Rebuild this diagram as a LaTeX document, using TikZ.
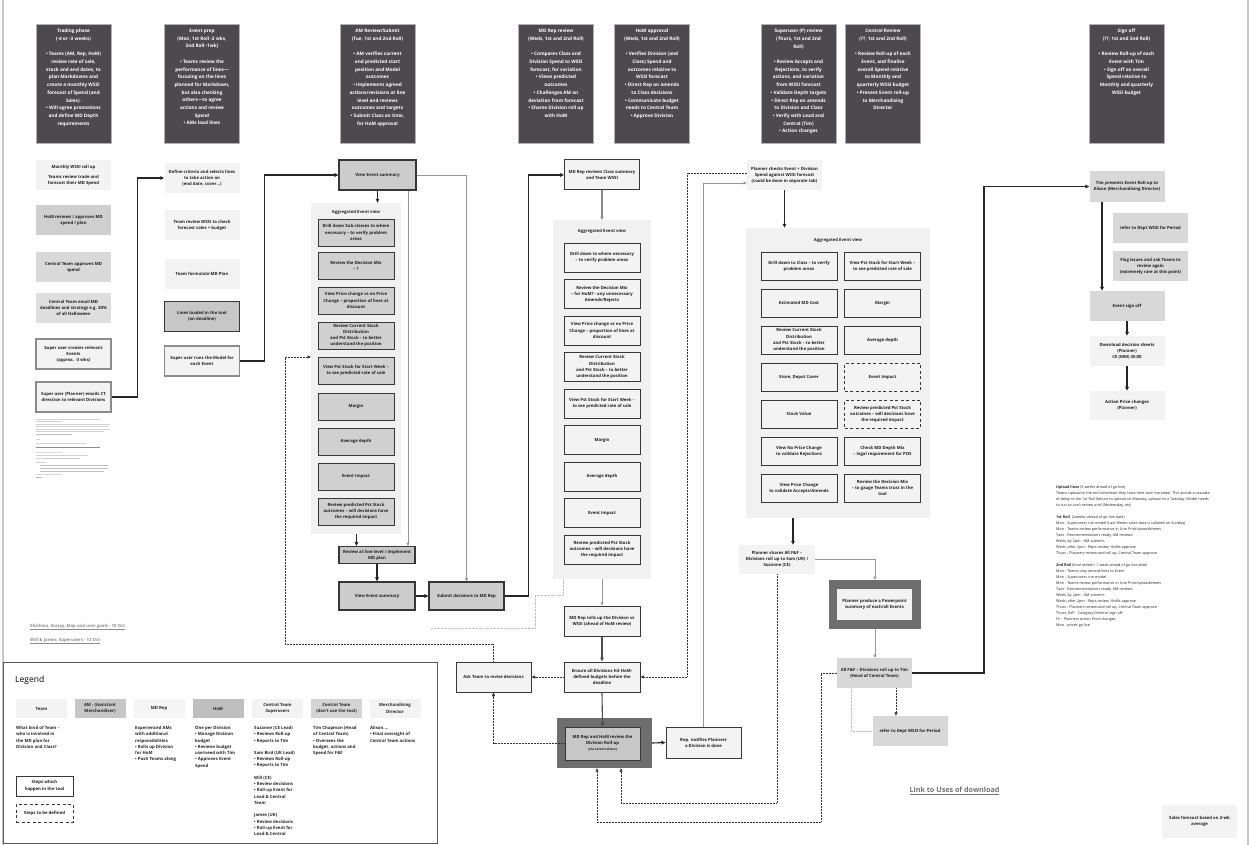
\documentclass[tikz,border=0pt]{standalone}
\usepackage{fontspec}
\setmainfont{Open Sans}
\usetikzlibrary{arrows.meta}
\definecolor{hdr}{RGB}{77,74,79}
\definecolor{lt}{RGB}{243,243,243}
\definecolor{gb}{RGB}{208,208,208}
\definecolor{bd}{RGB}{55,55,55}
\definecolor{grpc}{RGB}{241,241,241}
\definecolor{frm}{RGB}{110,110,110}
\definecolor{mg}{RGB}{216,216,216}
\definecolor{lg}{RGB}{150,150,150}
\definecolor{sg}{RGB}{140,140,140}
\newcommand\hdf{\fontsize{4.7}{7.7}\selectfont\bfseries}
\newcommand\bxf{\fontsize{4.25}{6.1}\selectfont\bfseries}
\newcommand\lgf{\fontsize{4.3}{6.3}\selectfont\bfseries}
\newcommand\ntf{\fontsize{3.75}{6}\selectfont}
\newcommand\lnf{\fontsize{4.3}{6}\selectfont\bfseries}
\begin{document}
\begin{tikzpicture}[x=1pt,y=-1pt,
 hdrbox/.style={fill=hdr, draw=black!30, line width=0.4pt, minimum width=75pt, minimum height=119pt, inner sep=0pt},
 hdrtext/.style={text=white, font=\hdf, align=center, inner sep=0pt, anchor=north},
 base/.style={align=center, inner sep=1pt, font=\bxf, text=black!88},
 lbox/.style={base, fill=lt, minimum width=75pt, minimum height=30pt},
 gbox/.style={base, fill=gb, draw=bd, line width=1pt, minimum width=76pt, minimum height=27pt},
 wbox/.style={base, fill=lt, draw=bd, line width=1pt, minimum width=76pt, minimum height=29pt},
 sbox/.style={base, fill=lt, draw=sg, line width=1.2pt, minimum width=75pt, minimum height=30pt},
 dbox/.style={wbox, dash pattern=on 3pt off 2.5pt},
 mgbox/.style={base, fill=mg, minimum width=75pt, minimum height=30pt},
 grp/.style={fill=grpc, inner sep=0pt},
 frmbox/.style={fill=frm, inner sep=0pt},
 gtitle/.style={font=\bxf, text=black!85, inner sep=0pt},
 arr/.style={draw=black!85, line width=1.1pt, -{Triangle[length=4pt,width=3.6pt]}},
 garr/.style={draw=lg, line width=0.8pt, -{Triangle[length=3.2pt,width=3pt]}},
 darr/.style={draw=black!80, line width=0.6pt, dash pattern=on 0.6pt off 0.9pt, -{Triangle[length=3.5pt,width=3pt]}},
 fdot/.style={draw=black!25, line width=0.5pt, dash pattern=on 0.5pt off 0.9pt},
 lgh/.style={font=\lgf, align=center, minimum width=51pt, minimum height=19pt, inner sep=0.5pt, text=black!85},
 lgd/.style={font=\lgf, align=left, anchor=north west, inner sep=0pt, text=black!85},
]
\useasboundingbox (0,0) rectangle (1252,845);
\fill[white] (0,0) rectangle (1252,845);
\draw[black!22, line width=1.5pt] (3,0) -- (3,845);
\draw[black!22, line width=1.5pt] (1248,0) -- (1248,845);

% ---------------- headers
\node[hdrbox] (H1) at (73.5,83.5) {};
\node[hdrtext] (H1t) at (73.5,29) {Trading phase\\(-4 or -3 weeks)\\[7.7pt]• Teams (AM, Rep, HoM)\\review rate of sale,\\stock and end dates, to\\plan Markdowns and\\create a monthly WSSI\\forecast of Spend (and\\Sales).\\• Will agree promotions\\and define MD Depth\\requirements};
\node[hdrbox] (H2) at (202,83.5) {};
\node[hdrtext] (H2t) at (202,29) {Event prep\\(Mon, 1st Roll -2 wks,\\2nd Roll -1wk)\\[7.7pt]• Teams review the\\performance of lines—\\focusing on the lines\\planned for Markdown,\\but also checking\\others—to agree\\actions and review\\Spend\\• AMs load lines};
\node[hdrbox] (H3) at (377.5,83.5) {};
\node[hdrtext] (H3t) at (377.5,29) {AM Review/Submit\\(Tue, 1st and 2nd Roll)\\[7.7pt]• AM verifies current\\and predicted start\\position and Model\\outcomes\\• Implements agreed\\actions/revisions at line\\level and reviews\\outcomes and targets\\• Submit Class on time,\\for HoM approval};
\node[hdrbox] (H4) at (556,83.5) {};
\node[hdrtext] (H4t) at (556,29) {MD Rep review\\(Weds, 1st and 2nd Roll)\\[7.7pt]• Compares Class and\\Division Spend to WSSI\\forecast, for variation\\• Views predicted\\outcomes\\• Challenges AM on\\deviation from forecast\\• Shares Division roll up\\with HoM};
\node[hdrbox] (H5) at (652,83.5) {};
\node[hdrtext] (H5t) at (652,29) {HoM approval\\(Weds, 1st and 2nd Roll)\\[7.7pt]• Verifies Division (and\\Class) Spend and\\outcomes relative to\\WSSI forecast\\• Direct Rep on amends\\to Class decisions\\• Communicate budget\\needs to Central Team\\• Approve Division};
\node[hdrbox] (H6) at (798.5,83.5) {};
\node[hdrtext] (H6t) at (798.5,29) {Superuser (P) review\\(Thurs, 1st and 2nd\\Roll)\\[7.7pt]• Review Accepts and\\Rejections, to verify\\actions, and variation\\from WSSI forecast\\• Validate Depth targets\\• Direct Rep on amends\\to Division and Class\\• Verify with Lead and\\Central (Tim)\\• Action changes};
\node[hdrbox] (H7) at (883,83.5) {};
\node[hdrtext] (H7t) at (883,29) {Central Review\\(??, 1st and 2nd Roll)\\[7.7pt]• Review Roll-up of each\\Event, and finalise\\overall Spend relative\\to Monthly and\\quarterly WSSI budget\\• Present Event roll-up\\to Merchandising\\Director};
\node[hdrbox] (H8) at (1126.5,83.5) {};
\node[hdrtext] (H8t) at (1126.5,29) {Sign off\\(??, 1st and 2nd Roll)\\[7.7pt]• Review Roll-up of each\\Event with Tim\\• Sign off on overall\\Spend relative to\\Monthly and quarterly\\WSSI budget};

% ---------------- left column
\node[lbox] (L1) at (73.5,175) {Monthly WSSI roll up\\[4pt]Teams review trade and\\forecast their MD Spend};
\node[lbox, fill=black!19] (L2) at (73.5,220) {HoM reviews / approves MD\\spend / plan};
\node[lbox, fill=black!15] (L3) at (73.5,267) {Central Team approves MD\\spend};
\node[lbox, fill=black!13] (L4) at (73.5,308) {Central Team email MD\\deadlines and strategy e.g. 30\%\\of all Halloween};
\node[sbox] (L5) at (73.5,354) {Super user creates relevant\\Events\\(approx. -3 wks)};
\node[sbox] (L6) at (73.5,397) {Super user (Planner) emails CT\\direction to relevant Divisions};
\foreach \yy/\xa/\xb/\cc in {419/36/100/18, 421.5/36/62/18, 424/36/110/18, 426.5/36/108/18, 429/36/110/18, 431.5/36/104/18, 434/36/72/25, 439/36/40/18, 443/36/86/18, 447.5/36/100/45, 452/36/62/15, 455/36/88/18, 458/36/80/18, 462/36/46/18, 465/40/108/25, 468/40/108/25, 471/40/104/25, 474.5/36/62/15, 477.5/36/42/30}
  \draw[black!\cc, line width=0.7pt] (\xa,\yy) -- (\xb,\yy);
\node[anchor=west, font=\lnf, text=black!45, inner sep=0pt] (NA) at (30,627) {\underline{Shishma, Surjay, Map and user goals - 10 Oct}};
\node[anchor=west, font=\lnf, text=black!45, inner sep=0pt] (NB) at (30,641) {\underline{Will \& James, Superusers - 13 Oct}};

% ---------------- event prep column
\node[lbox] (E1) at (202,178) {Define criteria and selects lines\\to take action on\\(end date, cover...)};
\node[lbox] (E2) at (202,225) {Team review WSSI to check\\forecast sales + budget};
\node[lbox] (E3) at (202,274) {Team formulate MD Plan};
\node[base, fill=black!22, draw=bd, line width=1pt, minimum width=75pt, minimum height=30pt] (E4) at (202,316) {Lines loaded in the tool\\(on deadline)};
\node[sbox] (E5) at (202,361) {Super user runs the Model for\\each Event};

% ---------------- AM column
\node[base, fill=black!20, draw=bd, line width=1.2pt, minimum width=77pt, minimum height=30pt] (V1) at (377.5,175) {View Event summary};
\node[grp, minimum width=90pt, minimum height=331pt] (G1) at (356,368.5) {};
\node[gtitle] (G1t) at (356,212) {Aggregated Event view};
\node[gbox] (a1) at (356,232.5) {Drill down Sub-classes to where\\necessary – to verify problem\\areas};
\node[gbox] (a2) at (356,265.5) {Review the Decision Mix\\– ?};
\node[gbox] (a3) at (356,300.5) {View Price change vs no Price\\Change – proportion of lines at\\discount};
\node[gbox] (a4) at (356,335.5) {Review Current Stock\\Distribution\\and Pst Stock – to better\\understand the position};
\node[gbox] (a5) at (356,370.5) {View Pst Stock for Start Week –\\to see predicted rate of sale};
\node[gbox] (a6) at (356,406.5) {Margin};
\node[gbox] (a7) at (356,441.5) {Average depth};
\node[gbox] (a8) at (356,476.5) {Event Impact};
\node[gbox] (a9) at (356,511.5) {Review predicted Pst Stock\\outcomes – will decisions have\\the required impact};
\node[base, fill=black!22, draw=bd, line width=1.2pt, minimum width=76pt, minimum height=17pt] (R1) at (377,555) {Review at line level / implement\\MD plan};
\node[base, fill=black!20, draw=bd, line width=1.2pt, minimum width=76pt, minimum height=28pt] (V2) at (377,596) {View Event summary};
\node[base, fill=black!20, draw=bd, line width=1.2pt, minimum width=75pt, minimum height=28pt] (S1) at (466.5,596) {Submit decisions to MD Rep};
\coordinate (g1in) at (311,357);

% ---------------- MD Rep column
\node[wbox, minimum width=75pt, minimum height=30pt] (M1) at (602,175) {MD Rep reviews Class summary\\and Team WSSI};
\node[grp, minimum width=98pt, minimum height=359pt] (G2) at (602,399.5) {};
\node[gtitle] (G2t) at (602,231) {Aggregated Event view};
\node[wbox] (b1) at (602,257.5) {Drill down to where necessary\\– to verify problem areas};
\node[wbox] (b2) at (602,294) {Review the Decision Mix\\– for HoM? - any unnecessary\\Amends/Rejects};
\node[wbox] (b3) at (602,330.5) {View Price change vs no Price\\Change – proportion of lines at\\discount};
\node[wbox] (b4) at (602,367) {Review Current Stock\\Distribution\\and Pst Stock – to better\\understand the position};
\node[wbox] (b5) at (602,403.5) {View Pst Stock for Start Week –\\to see predicted rate of sale};
\node[wbox] (b6) at (602,440) {Margin};
\node[wbox] (b7) at (602,476.5) {Average depth};
\node[wbox] (b8) at (602,513) {Event Impact};
\node[wbox] (b9) at (602,549.5) {Review predicted Pst Stock\\outcomes – will decisions have\\the required impact};
\node[wbox, minimum height=30pt] (M2) at (602,621) {MD Rep rolls up the Division vs\\WSSI (ahead of HoM review)};
\node[wbox, minimum height=30pt] (M3) at (602,677) {Ensure all Divisions hit HoM-\\defined budgets before the\\deadline};
\node[frmbox, minimum width=95pt, minimum height=50pt] (F1) at (604.5,743) {};
\node[base, fill=black!22, draw=bd, line width=1pt, minimum width=75pt, minimum height=33pt] (M4) at (602.5,743.5) {MD Rep and HoM review the\\Division Roll-up\\{\fontsize{3.3}{4.5}\selectfont (via screen share)}};
\node[wbox, minimum width=75pt, minimum height=30pt] (A1) at (493.5,677) {Ask Team to revise decisions};
\node[wbox, minimum width=75pt, minimum height=31pt] (N1) at (703.5,742.5) {Rep. notifies Planners\\a Division is done};

% ---------------- Superuser column
\node[lbox] (P1) at (784.5,175) {Planner checks Event + Division\\Spend against WSSI forecast\\(could be done in separate tab)};
\node[grp, minimum width=184pt, minimum height=290pt] (G3) at (838,373) {};
\node[gtitle] (G3t) at (838,240) {Aggregated Event view};
\node[wbox, minimum height=28pt] (c1) at (799,266) {Drill down to Class – to verify\\problem areas};
\node[wbox, minimum height=28pt] (d1) at (882.5,266) {View Pst Stock for Start Week –\\to see predicted rate of sale};
\node[wbox, minimum height=28pt] (c2) at (799,303) {Estimated MD Cost};
\node[wbox, minimum height=28pt] (d2) at (882.5,303) {Margin};
\node[wbox, minimum height=28pt] (c3) at (799,340) {Review Current Stock\\Distribution\\and Pst Stock – to better\\understand the position};
\node[wbox, minimum height=28pt] (d3) at (882.5,340) {Average depth};
\node[wbox, minimum height=28pt] (c4) at (799,377) {Store, Depot Cover};
\node[dbox, minimum height=28pt] (d4) at (882.5,377) {Event Impact};
\node[wbox, minimum height=28pt] (c5) at (799,414) {Stock Value};
\node[dbox, minimum height=28pt] (d5) at (882.5,414) {Review predicted Pst Stock\\outcomes – will decisions have\\the required impact};
\node[wbox, minimum height=28pt] (c6) at (799,451) {View No Price Change\\to validate Rejections};
\node[wbox, minimum height=28pt] (d6) at (882.5,451) {Check MD Depth Mix\\– legal requirement for POS};
\node[wbox, minimum height=28pt] (c7) at (799,488) {View Price Change\\to validate Accepts/Amends};
\node[wbox, minimum height=28pt] (d7) at (882.5,488) {Review the Decision Mix\\– to gauge Teams trust in the\\tool};
\node[lbox, minimum width=76pt, minimum height=29pt] (P2) at (777,559.5) {Planner shares All F\&F –\\Divisions roll up to Sam (UK) /\\Suzanne (CE)};

% ---------------- Central review
\node[frmbox, minimum width=92pt, minimum height=49pt] (F2) at (875,604.5) {};
\node[lbox, minimum height=31pt] (P3) at (874.5,604.5) {Planner produce a Powerpoint\\summary of each/all Events};
\node[mgbox] (P4) at (874.5,673) {All F\&F – Divisions roll up to Tim\\(Head of Central Team)};
\node[mgbox] (P5) at (910,731) {refer to Dept WSSI for Period};

% ---------------- Sign off column
\node[mgbox] (T1) at (1127,186.5) {Tim presents Event Roll-up to\\Alison (Merchandising Director)};
\node[mgbox] (T2) at (1150.5,228) {refer to Dept WSSI for Period};
\node[mgbox] (T3) at (1150.5,266) {Flag issues and ask Teams to\\review again\\(extremely rare at this point)};
\node[mgbox] (T4) at (1127,306) {Event sign off};
\node[lbox] (T5) at (1127,351) {Download decision sheets\\(Planner)\\CE (MM) 45:00};
\node[lbox, minimum height=29pt] (T6) at (1127,405.5) {Action Price changes\\(Planner)};

% ---------------- connectors
\draw[arr] (L6.east) -- ++(26,0) |- (E1.west);
\draw[arr] (E5.east) -- ++(24,0) |- (V1.west);
\draw[arr] (V1.south) -- (V1.south |- G1.north);
\draw[arr] ([xshift=-21pt]V1.south |- G1.south) -- ([xshift=-21pt]V1.south |- R1.north);
\draw[garr] ([xshift=30.5pt]V1.south) -- ([xshift=30.5pt]V1.south |- R1.north);
\draw[garr] (V1.east) -| (S1.north);
\draw[arr] (R1.south) -- (V2.north);
\draw[arr] (V2.east) -- (S1.west);
\draw[arr] (S1.east) -- ++(24,0) |- (M1.west);
\draw[garr, line width=1.4pt, draw=black!45] (M1.south) -- (M1.south |- G2.north);
\draw[garr, draw=black!40] (G2.south) -- (M2.north);
\draw[arr, draw=black!70] (M2.south) -- (M3.north);
\draw[arr, draw=black!70] (M3.south) -- (M4.north);
\draw[arr] (F1.east) -- (N1.west);
\draw[darr] (M3.west) -- (A1.east);
\draw[darr] (M4.west) -| (A1.south);
\draw[darr] (A1.north) |- (285,644) |- (g1in);
\draw[fdot] ([xshift=-39pt]G2.south) -- ++(0,16) -- ++(-28,0) -- ++(0,33) -- ++(-105,0);
\draw[arr] (P1.south) -- (P1.south |- G3.north);
\draw[arr] ([xshift=-45pt]G3.south) -- ([xshift=-45pt]G3.south |- P2.north);
\draw[darr] ([yshift=2pt]P1.west) -- (687,173) |- (M3.east);
\draw[garr] (N1.north) |- ([yshift=-8pt]P1.west);
\draw[garr] (P2.east) -| (F2.north);
\draw[garr] (F2.south) -- (F2.south |- P4.north);
\draw[darr, line width=0.9pt] ([xshift=21.5pt]P4.south) -- ([xshift=21.5pt]P4.south |- P5.north);
\draw[fdot] ([xshift=-23.5pt]P4.south) |- (P5.west);
\draw[darr] (P4.west) -- (821,673) -- (821,822) -| ([xshift=-7.5pt]F1.south);
\draw[darr] (P2.south) -- (777,803) -| ([xshift=16.5pt]F1.south);
\draw[arr] (P4.east) -- (984,673) |- (T1.west);
\draw[arr] ([xshift=-25pt]T1.south) -- ([xshift=-25pt]T1.south |- T4.north);
\draw[arr] (T4.south) -- (T5.north);
\draw[arr] (T5.south) -- (T6.north);

% ---------------- notes
\node[anchor=north west, align=left, font=\ntf, inner sep=0pt, text=black!85] (NT) at (1056,485) {\textbf{Upload lines} (3 weeks ahead of go-live)\\
Teams upload to the tool whenever they have time over the week. This avoids a cascade\\
of delay to the 1st Roll (failure to upload on Monday, upload on a Tuesday, Model needs\\
to run so can't review until Wednesday, etc)\\[6pt]
\textbf{1st Roll}\ \ (2weeks ahead of go-live date)\\
Mon - Superusers run model (Last Weeks sales data is collated on Sunday)\\
Mon - Teams review performance in Line Print/spreadsheets\\
Tues - Recommendations ready, AM reviews\\
Weds, by 2pm - AM submits\\
Weds, after 2pm - Reps review, HoMs approve\\
Thurs - Planners review and roll up, Central Team approve\\[6pt]
\textbf{2nd Roll} (final review / 1 week ahead of go-live date)\\
Mon - Teams may amend lines to Event\\
Mon - Superusers run model\\
Mon - Teams review performance in Line Print/spreadsheets\\
Tues - Recommendations ready, AM reviews\\
Weds, by 2pm - AM submits\\
Weds, after 2pm - Reps review, HoMs approve\\
Thurs - Planners review and roll up, Central Team approve\\
Thurs, EoP - Category Director sign off\\
Fri - Planners action Price changes\\
Mon - prices go live};
\node[lbox, minimum height=33pt] (SF) at (1199.5,821.5) {Sales forecast based on 2-wk\\average};
\node[font=\fontsize{7.2}{8}\selectfont\bfseries, text=black!55, inner sep=0pt] (LK) at (954.5,791) {\underline{Link to Uses of download}};

% ---------------- legend
\node[draw=black!65, line width=0.8pt, minimum width=434pt, minimum height=181pt, inner sep=0pt] (LG) at (220,752.5) {};
\node[anchor=west, font=\fontsize{8.5}{10}\selectfont, inner sep=0pt] (LGt) at (15,680) {Legend};
\node[lgh, fill=lt] (K1) at (41.5,708.5) {Team};
\node[lgh, fill=black!22] (K2) at (100,708.5) {AM - (Assistant\\Merchandiser)};
\node[lgh, fill=black!4] (K3) at (159,708.5) {MD Rep};
\node[lgh, fill=black!25] (K4) at (218,708.5) {HoM};
\node[lgh, fill=lt] (K5) at (277.5,708.5) {Central Team\\Superusers};
\node[lgh, fill=black!17] (K6) at (336.5,708.5) {Central Team\\(don't use the tool)};
\node[lgh, fill=lt] (K7) at (395,708.5) {Merchandising\\Director};
\node[lgd] (D1) at (16,726) {What kind of Team –\\who is involved in\\the MD plan for\\Division and Class?};
\node[lgd] (D3) at (135,726) {Experienced AMs\\with additional\\responsibilities\\• Rolls up Division\\for HoM\\• Push Teams along};
\node[lgd] (D4) at (195,726) {One per Division\\• Manage Division\\budget\\• Reviews budget\\use/need with Tim\\• Approves Event\\Spend};
\node[lgd] (D5) at (254,726) {Suzanne (CE Lead)\\• Reviews Roll-up\\• Reports to Tim\\[6pt]Sam Bird (UK Lead)\\• Reviews Roll-up\\• Reports to Tim\\[6pt]Will (CE)\\• Review decisions\\• Roll-up Event for\\Lead \& Central\\Team\\[6pt]James (UK)\\• Review decisions\\• Roll-up Event for\\Lead \& Central};
\node[lgd] (D6) at (313,726) {Tim Chapman (Head\\of Central Team)\\• Oversees the\\budget, actions and\\Spend for F\&F};
\node[lgd] (D7) at (370,726) {Alison....\\• Final oversight of\\Central Team actions};
\node[base, font=\lgf, fill=white, draw=bd, line width=1pt, minimum width=57pt, minimum height=20pt] (K8) at (44.5,786) {Steps which\\happen in the tool};
\node[base, font=\lgf, fill=white, draw=bd, line width=1pt, dash pattern=on 3pt off 2.5pt, minimum width=57pt, minimum height=18pt] (K9) at (44.5,813) {Steps to be defined};
\end{tikzpicture}
\end{document}
